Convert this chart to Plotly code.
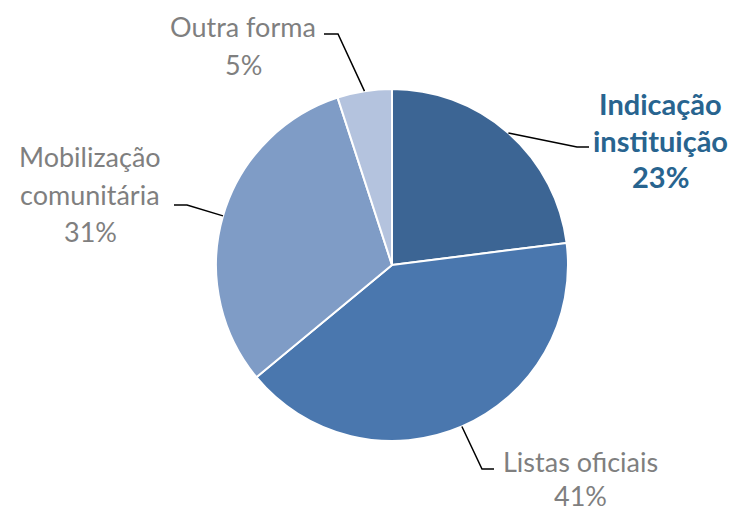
import math
import plotly.graph_objects as go

categories = ["Indicação instituição", "Listas oficiais", "Mobilização comunitária", "Outra forma"]
values = [23, 41, 31, 5]
label_lines = [["Indicação", "instituição"], ["Listas oficiais"], ["Mobilização", "comunitária"], ["Outra forma"]]
colors = ["#3c6594", "#4a77ae", "#7f9cc6", "#b4c3de"]

W, H = 734, 511
CX, CY, R = 392, 265, 176

fig = go.Figure(go.Pie(
    labels=categories, values=values, sort=False, direction="clockwise", rotation=0,
    marker=dict(colors=colors, line=dict(color="white", width=2)),
    textinfo="none", hoverinfo="label+percent", showlegend=False,
    domain=dict(x=[(CX - R) / W, (CX + R) / W], y=[1 - (CY + R) / H, 1 - (CY - R) / H]),
))

def px(x, y):
    return x / W, 1 - y / H

# label layout: center x, first line y, line spacing, elbow point, end of horizontal
layout_info = [
    dict(cx=660, y0=103, dy=37, elbow=(577, 147), end=(589, 147), color="#28648f", bold=True, size=29),
    dict(cx=580, y0=461, dy=34, elbow=(482, 469), end=(494, 469), color="#7f7f7f", bold=False, size=27),
    dict(cx=90, y0=157, dy=37, elbow=(187, 205), end=(174, 205), color="#7f7f7f", bold=False, size=27),
    dict(cx=243, y0=26, dy=38, elbow=(338, 34), end=(324, 34), color="#7f7f7f", bold=False, size=27),
]

font_family = "Lato, Open Sans, sans-serif"
total = sum(values)
cum = 0
annotations = []
shapes = []
for i, v in enumerate(values):
    mid = (cum + v / 2) / total * 2 * math.pi
    cum += v
    sx = CX + R * math.sin(mid)
    sy = CY - R * math.cos(mid)
    info = layout_info[i]
    lines = label_lines[i] + [f"{round(v / total * 100)}%"]
    for j, t in enumerate(lines):
        x, y = px(info["cx"], info["y0"] + j * info["dy"])
        txt = f"<b>{t}</b>" if info["bold"] else t
        annotations.append(dict(x=x, y=y, xref="paper", yref="paper", text=txt, showarrow=False,
                                xanchor="center", yanchor="middle",
                                font=dict(family=font_family, size=info["size"], color=info["color"])))
    p0 = px(sx, sy)
    p1 = px(*info["elbow"])
    p2 = px(*info["end"])
    shapes.append(dict(type="path", xref="paper", yref="paper",
                       path=f"M {p0[0]} {p0[1]} L {p1[0]} {p1[1]} L {p2[0]} {p2[1]}",
                       line=dict(color="black", width=1.5)))

fig.update_layout(
    width=W, height=H, margin=dict(l=0, r=0, t=0, b=0),
    paper_bgcolor="white", plot_bgcolor="white",
    annotations=annotations, shapes=shapes,
)
fig.write_html("out.html", config={"displayModeBar": False},
               post_script="document.body.style.margin='0';document.body.style.overflow='hidden';")
